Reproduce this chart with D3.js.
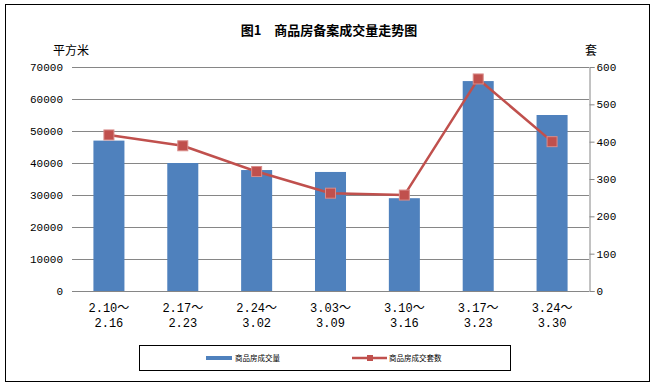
<!DOCTYPE html>
<html>
<head>
<meta charset="utf-8">
<script src="https://cdn.jsdelivr.net/npm/d3@7"></script>
<style>
  body { margin: 0; background: #fff; }
  text { font-family: "Liberation Mono", "Noto Sans CJK SC", monospace; }
</style>
</head>
<body>
<div id="chart"></div>
<script>
// weekly periods
let periodsStart = ["2.10～", "2.17～", "2.24～", "3.03～", "3.10～", "3.17～", "3.24～"];
let periodsEnd = ["2.16", "2.23", "3.02", "3.09", "3.16", "3.23", "3.30"];
// 商品房成交量 (平方米)
let areaValues = [47000, 40000, 37800, 37200, 29000, 65600, 55000];
// 商品房成交套数 (套)
let unitValues = [418, 389, 320, 262, 257, 568, 400];
let leftTicks = [0, 10000, 20000, 30000, 40000, 50000, 60000, 70000];
let rightTicks = [0, 100, 200, 300, 400, 500, 600];

let width = 655, height = 386;
let plot = { left: 72, right: 589, top: 67, bottom: 291 };
let barColor = "#4F81BD", lineColor = "#C0504D", gridColor = "#868686";

let svg = d3.select("#chart").append("svg")
    .attr("width", width)
    .attr("height", height);

// outer frame
svg.append("rect")
    .attr("x", 5.5).attr("y", 4.5)
    .attr("width", 644).attr("height", 377)
    .attr("fill", "none").attr("stroke", "#000").attr("stroke-width", 1);

let x = d3.scaleBand()
    .domain(periodsStart.map((d, i) => i))
    .range([plot.left, plot.right])
    .paddingInner(0.58)
    .paddingOuter(0.29);

let yLeft = d3.scaleLinear().domain([0, 70000]).range([plot.bottom, plot.top]);
let yRight = d3.scaleLinear().domain([0, 600]).range([plot.bottom, plot.top]);

// gridlines
svg.append("g")
    .selectAll("line")
    .data(leftTicks)
    .enter().append("line")
    .attr("x1", plot.left).attr("x2", plot.right)
    .attr("y1", d => Math.round(yLeft(d)) + 0.5)
    .attr("y2", d => Math.round(yLeft(d)) + 0.5)
    .attr("stroke", gridColor).attr("stroke-width", 1);

// left axis labels
svg.append("g")
    .selectAll("text")
    .data(leftTicks)
    .enter().append("text")
    .attr("x", 63)
    .attr("y", d => yLeft(d) + 4)
    .attr("text-anchor", "end")
    .style("font-size", "11px")
    .text(d => d);

// right axis
let rightAxis = svg.append("g")
    .attr("transform", `translate(${plot.right + 0.5},0)`)
    .call(d3.axisRight(yRight).tickValues(rightTicks).tickSize(5).tickPadding(2).tickFormat(d => d));
rightAxis.select(".domain").attr("stroke", gridColor);
rightAxis.selectAll(".tick line").attr("stroke", gridColor);
rightAxis.selectAll(".tick text")
    .style("font-size", "11px")
    .style("font-family", "'Liberation Mono', monospace")
    .attr("fill", "#000");

// bars
svg.append("g")
    .selectAll("rect")
    .data(areaValues)
    .enter().append("rect")
    .attr("x", (d, i) => x(i))
    .attr("y", d => yLeft(d))
    .attr("width", x.bandwidth())
    .attr("height", d => plot.bottom - yLeft(d))
    .attr("fill", barColor);

// bottom axis line
svg.append("line")
    .attr("x1", plot.left).attr("x2", plot.right)
    .attr("y1", plot.bottom + 0.5).attr("y2", plot.bottom + 0.5)
    .attr("stroke", gridColor);

// line series
let cx = i => x(i) + x.bandwidth() / 2;
let line = d3.line()
    .x((d, i) => cx(i))
    .y(d => yRight(d));

svg.append("path")
    .datum(unitValues)
    .attr("d", line)
    .attr("fill", "none")
    .attr("stroke", lineColor)
    .attr("stroke-width", 2.5)
    .attr("stroke-linejoin", "round");

svg.append("g")
    .selectAll("rect")
    .data(unitValues)
    .enter().append("rect")
    .attr("x", (d, i) => cx(i) - 5)
    .attr("y", d => yRight(d) - 5)
    .attr("width", 10).attr("height", 10)
    .attr("fill", lineColor)
    .attr("stroke", "#d98c8a").attr("stroke-width", 1);

// category labels (two lines)
let cats = svg.append("g");
cats.selectAll("text.start")
    .data(periodsStart)
    .enter().append("text")
    .attr("class", "start")
    .attr("x", (d, i) => cx(i))
    .attr("y", 312)
    .attr("text-anchor", "middle")
    .style("font-size", "12px")
    .text(d => d);
cats.selectAll("text.end")
    .data(periodsEnd)
    .enter().append("text")
    .attr("class", "end")
    .attr("x", (d, i) => cx(i))
    .attr("y", 327)
    .attr("text-anchor", "middle")
    .style("font-size", "12px")
    .text(d => d);

// title and axis units
svg.append("text")
    .attr("x", 329).attr("y", 35)
    .attr("text-anchor", "middle")
    .style("font-family", "'Noto Sans CJK SC'")
    .style("font-size", "13px")
    .style("font-weight", "bold")
    .text("图1\u2003商品房备案成交量走势图");

svg.append("text")
    .attr("x", 53).attr("y", 55)
    .style("font-family", "'Noto Sans CJK SC'")
    .style("font-size", "12px")
    .text("平方米");

svg.append("text")
    .attr("x", 585).attr("y", 55)
    .style("font-family", "'Noto Sans CJK SC'")
    .style("font-size", "12px")
    .text("套");

// legend
let legend = svg.append("g");
legend.append("rect")
    .attr("x", 139.5).attr("y", 345.5)
    .attr("width", 371).attr("height", 25)
    .attr("fill", "#fff").attr("stroke", "#000");
legend.append("rect")
    .attr("x", 206).attr("y", 356)
    .attr("width", 26).attr("height", 4)
    .attr("fill", barColor);
legend.append("text")
    .attr("x", 235).attr("y", 361)
    .style("font-family", "'Noto Sans CJK SC'")
    .style("font-size", "7.5px")
    .text("商品房成交量");
legend.append("line")
    .attr("x1", 352).attr("x2", 387)
    .attr("y1", 358).attr("y2", 358)
    .attr("stroke", lineColor).attr("stroke-width", 2.5);
legend.append("rect")
    .attr("x", 367).attr("y", 355)
    .attr("width", 6).attr("height", 6)
    .attr("fill", lineColor);
legend.append("text")
    .attr("x", 389).attr("y", 361)
    .style("font-family", "'Noto Sans CJK SC'")
    .style("font-size", "7.5px")
    .text("商品房成交套数");
</script>
</body>
</html>
